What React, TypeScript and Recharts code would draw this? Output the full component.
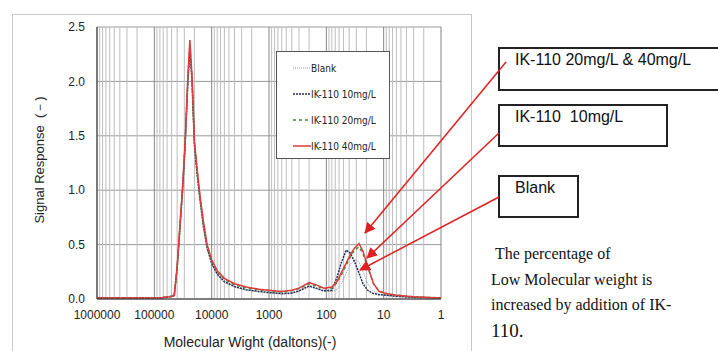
import React from 'react';
import { LineChart, Line, XAxis, YAxis, CartesianGrid, ReferenceLine } from 'recharts';

// molecular weight sample points (daltons)
const mw = [1000000, 200000, 80000, 55000, 45000, 40000, 35000, 32000, 29000, 26000, 24000, 22000, 20000, 18000, 16000, 14000, 12000, 10000, 8000, 6000, 4000, 2500, 1500, 1000, 600, 400, 300, 200, 150, 110, 80, 65, 55, 45, 38, 32, 27, 23, 19, 15, 12, 9, 6, 3, 1];

const blank = [0.01, 0.01, 0.01, 0.02, 0.03, 0.28, 0.72, 1.0, 1.4, 1.98, 2.3, 2.0, 1.4, 1.14, 0.9, 0.66, 0.45, 0.32, 0.22, 0.15, 0.11, 0.08, 0.065, 0.055, 0.045, 0.05, 0.07, 0.11, 0.095, 0.07, 0.07, 0.09, 0.14, 0.24, 0.32, 0.36, 0.34, 0.25, 0.14, 0.07, 0.045, 0.035, 0.025, 0.015, 0.01];
const ik10 = [0.01, 0.01, 0.01, 0.02, 0.03, 0.28, 0.72, 1.02, 1.42, 2.0, 2.28, 2.0, 1.42, 1.16, 0.92, 0.68, 0.47, 0.33, 0.23, 0.16, 0.115, 0.085, 0.07, 0.06, 0.05, 0.055, 0.075, 0.12, 0.1, 0.075, 0.08, 0.2, 0.33, 0.45, 0.42, 0.34, 0.24, 0.14, 0.08, 0.05, 0.04, 0.035, 0.025, 0.015, 0.01];
const ik20 = [0.01, 0.01, 0.01, 0.02, 0.03, 0.29, 0.74, 1.04, 1.44, 2.03, 2.33, 2.03, 1.44, 1.18, 0.94, 0.7, 0.49, 0.35, 0.25, 0.18, 0.13, 0.1, 0.085, 0.075, 0.065, 0.075, 0.095, 0.14, 0.12, 0.095, 0.1, 0.15, 0.22, 0.31, 0.39, 0.45, 0.48, 0.42, 0.29, 0.14, 0.07, 0.05, 0.035, 0.02, 0.01];
const ik40 = [0.01, 0.01, 0.01, 0.02, 0.03, 0.3, 0.75, 1.05, 1.45, 2.05, 2.38, 2.05, 1.45, 1.2, 0.95, 0.72, 0.5, 0.36, 0.26, 0.19, 0.14, 0.11, 0.09, 0.08, 0.07, 0.08, 0.1, 0.15, 0.13, 0.1, 0.11, 0.16, 0.24, 0.33, 0.41, 0.47, 0.51, 0.44, 0.3, 0.14, 0.07, 0.05, 0.035, 0.02, 0.01];

const xTicks = [1000000, 100000, 10000, 1000, 100, 10, 1];
const yTicks = [0, 0.5, 1.0, 1.5, 2.0, 2.5];
const minorTicks: number[] = [];
for (let k = 0; k < 6; k++) for (let m = 2; m <= 9; m++) minorTicks.push(m * Math.pow(10, k));

const seriesNames = ['Blank', 'IK-110 10mg/L', 'IK-110 20mg/L', 'IK-110 40mg/L'];

const data = mw.map((m, i) => ({ mw: m, blank: blank[i], ik10: ik10[i], ik20: ik20[i], ik40: ik40[i] }));

const legendItems = [
  { name: seriesNames[0], stroke: '#9a9a9a', dash: '1 1', w: 1 },
  { name: seriesNames[1], stroke: '#1f2b55', dash: '2 1', w: 1.5 },
  { name: seriesNames[2], stroke: '#3f8f3f', dash: '3 3', w: 1.5 },
  { name: seriesNames[3], stroke: '#e03a3a', dash: undefined, w: 1.5 },
];

const LegendBox = () => (
  <div style={{ position: 'absolute', left: 276, top: 51, width: 114, height: 108, border: '1px solid #555', background: '#fff', boxSizing: 'border-box', fontFamily: '"Liberation Sans Narrow", "DejaVu Sans Condensed", Arial, sans-serif', fontSize: 10, color: '#222', paddingTop: 3 }}>
    {legendItems.map((e) => (
      <div key={e.name} style={{ display: 'flex', alignItems: 'center', height: 26 }}>
        <svg width={34} height={6}><line x1={16} y1={3} x2={34} y2={3} stroke={e.stroke} strokeWidth={e.w} strokeDasharray={e.dash} /></svg>
        <span>{e.name}</span>
      </div>
    ))}
  </div>
);

const boxStyle: React.CSSProperties = { position: 'absolute', border: '2px solid #222', boxSizing: 'border-box', fontFamily: '"Liberation Sans", Arial, sans-serif', fontSize: 16, color: '#111', paddingLeft: 15, paddingTop: 2, background: '#fff' };

export default function App() {
  return (
    <div style={{ position: 'absolute', left: 0, top: 0, width: 718, height: 351, background: '#fff', overflow: 'hidden' }}>
      <div style={{ position: 'absolute', left: 12, top: 14, width: 460, height: 340, border: '1px solid #c8c8c8', boxSizing: 'border-box' }} />
      <div style={{ position: 'absolute', left: 0, top: 0 }}>
        <LineChart width={718} height={351} data={data} margin={{ top: 27, right: 277, bottom: 22, left: 47 }}>
          <CartesianGrid vertical={false} stroke="#9a9a9a" strokeDasharray="" />
          {minorTicks.map((t) => (
            <ReferenceLine key={'m' + t} x={t} stroke="#bdbdbd" strokeWidth={1} />
          ))}
          {xTicks.map((t) => (
            <ReferenceLine key={'M' + t} x={t} stroke="#858585" strokeWidth={1} />
          ))}
          <XAxis dataKey="mw" type="number" scale="log" domain={[1, 1000000]} reversed ticks={xTicks} interval={0}
            allowDataOverflow height={30} tickLine={false} tickSize={6} tickMargin={5} stroke="#333"
            tick={{ fill: '#222', fontSize: 12, fontFamily: '"Liberation Sans", Arial, sans-serif' }} />
          <XAxis xAxisId="top" orientation="top" type="number" domain={[0, 1]} tick={false} tickLine={false} height={0} stroke="#333" />
          <YAxis type="number" domain={[0, 2.5]} ticks={yTicks} width={50} tickLine={false} tickSize={6} tickMargin={6} stroke="#333"
            tickFormatter={(v: number) => v.toFixed(1)}
            tick={{ fill: '#222', fontSize: 12, fontFamily: '"Liberation Sans", Arial, sans-serif' }} />
          <YAxis yAxisId="right" orientation="right" type="number" domain={[0, 1]} tick={false} tickLine={false} width={0} stroke="#333" />
          <Line dataKey="blank" name={seriesNames[0]} stroke="#9a9a9a" strokeWidth={1} strokeDasharray="1 1" dot={false} isAnimationActive={false} />
          <Line dataKey="ik10" name={seriesNames[1]} stroke="#1f2b55" strokeWidth={1.5} strokeDasharray="2 1" dot={false} isAnimationActive={false} />
          <Line dataKey="ik20" name={seriesNames[2]} stroke="#3f8f3f" strokeWidth={1.5} strokeDasharray="3 3" dot={false} isAnimationActive={false} />
          <Line dataKey="ik40" name={seriesNames[3]} stroke="#e03a3a" strokeWidth={1.5} dot={false} isAnimationActive={false} />
        </LineChart>
      </div>
      <LegendBox />
      <div style={{ position: 'absolute', left: 40, top: 160, transform: 'translate(-50%, -50%) rotate(-90deg)', whiteSpace: 'nowrap', fontFamily: '"Liberation Sans", Arial, sans-serif', fontSize: 13, color: '#222' }}>
        Signal Response&nbsp; (－)
      </div>
      <div style={{ position: 'absolute', left: 250, top: 342, transform: 'translate(-50%, -50%)', whiteSpace: 'nowrap', fontFamily: '"Liberation Sans", Arial, sans-serif', fontSize: 14, color: '#222' }}>
        Molecular Wight (daltons)(-)
      </div>
      <div style={{ ...boxStyle, left: 498, top: 47, width: 230, height: 44 }}>IK-110 20mg/L &amp; 40mg/L</div>
      <div style={{ ...boxStyle, left: 498, top: 104, width: 170, height: 43 }}>IK-110&nbsp; 10mg/L</div>
      <div style={{ ...boxStyle, left: 498, top: 175, width: 81, height: 43 }}>Blank</div>
      <svg width={718} height={351} style={{ position: 'absolute', left: 0, top: 0, pointerEvents: 'none' }}>
        <defs>
          <marker id="ah" markerWidth="11" markerHeight="11" refX="10" refY="5.5" orient="auto" markerUnits="userSpaceOnUse" viewBox="0 0 11 11">
            <path d="M0,0 L11,5.5 L0,11 z" fill="#e02020" />
          </marker>
        </defs>
        <line x1={506} y1={62} x2={365} y2={233} stroke="#e02020" strokeWidth={1.5} markerEnd="url(#ah)" />
        <line x1={499} y1={133} x2={367} y2={258} stroke="#e02020" strokeWidth={1.5} markerEnd="url(#ah)" />
        <line x1={499} y1={197} x2={360} y2={270} stroke="#e02020" strokeWidth={1.5} markerEnd="url(#ah)" />
      </svg>
      <div style={{ position: 'absolute', left: 491, top: 241, fontFamily: '"Liberation Serif", "Times New Roman", serif', fontSize: 16, lineHeight: '25.5px', color: '#111' }}>
        <div>&nbsp;The percentage of</div>
        <div>Low Molecular weight is</div>
        <div>increased by addition of IK-</div>
        <div style={{ fontSize: 19 }}>110.</div>
      </div>
    </div>
  );
}
